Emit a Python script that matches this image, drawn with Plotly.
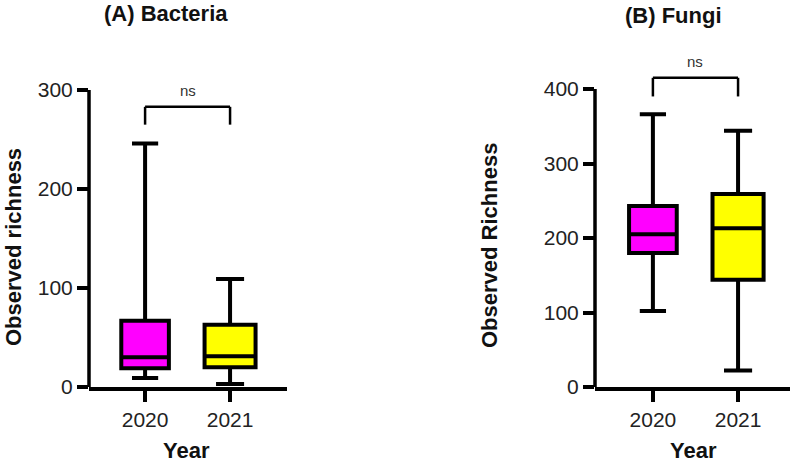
import plotly.graph_objects as go

years = ["2020", "2021"]
colors = ["#FF00FF", "#FFFF00"]

# Bacteria (A)
bac_min = [9, 3]
bac_q1 = [19, 20]
bac_med = [30, 31]
bac_q3 = [67, 63]
bac_max = [246, 109]

# Fungi (B)
fun_min = [102, 22]
fun_q1 = [180, 144]
fun_med = [205, 213]
fun_q3 = [243, 259]
fun_max = [366, 344]

yticks_a = [0, 100, 200, 300]
yticks_b = [0, 100, 200, 300, 400]

W, H = 797, 464
FONT = "Liberation Sans, Arial, sans-serif"

fig = go.Figure()

widths = [0.56, 0.6]
for i, y in enumerate(years):
    fig.add_trace(go.Box(
        x=[y], q1=[bac_q1[i]], median=[bac_med[i]], q3=[bac_q3[i]],
        lowerfence=[bac_min[i]], upperfence=[bac_max[i]],
        fillcolor=colors[i], line=dict(color="black", width=4),
        width=widths[i], whiskerwidth=0.55, boxpoints=False,
        xaxis="x", yaxis="y", showlegend=False, hoverinfo="skip"))
    fig.add_trace(go.Box(
        x=[y], q1=[fun_q1[i]], median=[fun_med[i]], q3=[fun_q3[i]],
        lowerfence=[fun_min[i]], upperfence=[fun_max[i]],
        fillcolor=colors[i], line=dict(color="black", width=4),
        width=widths[i], whiskerwidth=0.55, boxpoints=False,
        xaxis="x2", yaxis="y2", showlegend=False, hoverinfo="skip"))

def px_x(p):
    return p / W

def px_y(p):
    return (H - p) / H

ydom = [px_y(387), px_y(60)]
top_a = (387 - 60) / (297 / 300)
top_b = (387 - 60) / (298 / 400)

tickfont = dict(family=FONT, size=21, color="#222222")
axis_common = dict(
    ticks="outside", ticklen=11, tickwidth=3.5, tickcolor="black",
    tickfont=tickfont, showgrid=False, zeroline=False, automargin=False,
)

fig.update_layout(
    width=W, height=H, margin=dict(l=0, r=0, t=0, b=0),
    paper_bgcolor="white", plot_bgcolor="white", boxmode="overlay",
    xaxis=dict(domain=[px_x(89), px_x(287)], type="category",
               categoryorder="array", categoryarray=years,
               range=[-0.66, 1.67], showline=True, linecolor="black",
               linewidth=3.5, anchor="y", **axis_common),
    yaxis=dict(domain=ydom, range=[0, top_a], tickvals=yticks_a,
               showline=False, anchor="x", **axis_common),
    xaxis2=dict(domain=[px_x(595), px_x(790)], type="category",
                categoryorder="array", categoryarray=years,
                range=[-0.68, 1.61], showline=True, linecolor="black",
                linewidth=3.5, anchor="y2", **axis_common),
    yaxis2=dict(domain=ydom, range=[0, top_b], tickvals=yticks_b,
                showline=False, anchor="x2", **axis_common),
)

fig.add_shape(type="line", xref="x domain", yref="y", x0=0, x1=0,
              y0=0, y1=yticks_a[-1], line=dict(color="black", width=3.5))
fig.add_shape(type="line", xref="x2 domain", yref="y2", x0=0, x1=0,
              y0=0, y1=yticks_b[-1], line=dict(color="black", width=3.5))

def bracket(xr, yr, lo, hi):
    for (x0, y0, x1, y1) in [(0, lo, 0, hi), (0, hi, 1, hi), (1, hi, 1, lo)]:
        fig.add_shape(type="line", xref=xr, yref=yr, x0=x0, x1=x1, y0=y0, y1=y1,
                      line=dict(color="black", width=2.5))

bracket("x", "y", 265, 283)
bracket("x2", "y2", 390, 415)

fig.add_annotation(x=0.5, y=299, xref="x", yref="y", text="ns", showarrow=False,
                   font=dict(family=FONT, size=15, color="#333333"))
fig.add_annotation(x=0.5, y=437, xref="x2", yref="y2", text="ns", showarrow=False,
                   font=dict(family=FONT, size=15, color="#333333"))

bold = dict(family=FONT, size=22, color="#111111")
def ann(text, x, y, angle=0):
    fig.add_annotation(x=px_x(x), y=px_y(y), xref="paper", yref="paper",
                       text="<b>" + text + "</b>", showarrow=False, textangle=angle,
                       font=bold, xanchor="center", yanchor="middle")

ann("(A) Bacteria", 166, 14)
ann("(B) Fungi", 673, 16)
ann("Observed richness", 13, 247, -90)
ann("Observed Richness", 489, 246, -90)
ann("Year", 186, 450)
ann("Year", 693, 450)

fig.write_html("out.html",
               config={"displayModeBar": False},
               post_script="document.body.style.margin='0';document.body.style.overflow='hidden';")
